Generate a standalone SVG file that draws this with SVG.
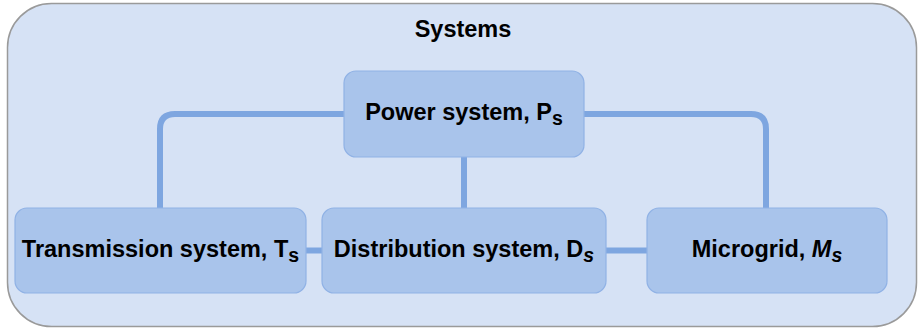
<svg xmlns="http://www.w3.org/2000/svg" width="918" height="329" viewBox="0 0 918 329">
  <style>
    .frame { fill: #D6E2F5; stroke: #9A9A9A; stroke-width: 1.5; }
    .node rect { fill: #A9C4EB; stroke: #90B2E5; stroke-width: 1.2; }
    .link { fill: none; stroke: #7EA6E0; stroke-width: 6; stroke-linejoin: round; }
    text { font-family: "Liberation Sans", Arial, Helvetica, sans-serif; font-weight: bold; font-size: 23.5px; fill: #000; text-anchor: middle; }
    .sub { font-size: 19.5px; }
    .it { font-style: italic; }
  </style>

  <!-- container -->
  <g id="systems">
    <rect class="frame" x="7.5" y="3.5" width="909" height="323" rx="44" ry="44"/>
    <text x="463" y="37">Systems</text>
  </g>

  <!-- connectors -->
  <g id="connectors">
    <path class="link" d="M344 114 H175 Q160 114 160 129 V208"/>
    <path class="link" d="M584 114 H751 Q766 114 766 129 V208"/>
    <path class="link" d="M464 157 V208"/>
    <path class="link" d="M306 250.5 H322"/>
    <path class="link" d="M606 250.5 H647"/>
  </g>

  <g id="power" class="node">
    <rect x="344" y="71" width="240" height="86" rx="12" ry="12"/>
    <text x="464" y="120">Power system, P<tspan class="sub" dy="4.5">s</tspan></text>
  </g>

  <g id="transmission" class="node">
    <rect x="15" y="208" width="291" height="85" rx="12" ry="12"/>
    <text x="160.5" y="257">Transmission system, T<tspan class="sub" dy="4.5">s</tspan></text>
  </g>

  <g id="distribution" class="node">
    <rect x="322" y="208" width="284" height="85" rx="12" ry="12"/>
    <text x="464" y="257">Distribution system, D<tspan class="sub it" dy="4.5">s</tspan></text>
  </g>

  <g id="microgrid" class="node">
    <rect x="647" y="208" width="240" height="85" rx="12" ry="12"/>
    <text x="767" y="257">Microgrid, <tspan class="it">M</tspan><tspan class="sub it" dy="4.5">s</tspan></text>
  </g>
</svg>
